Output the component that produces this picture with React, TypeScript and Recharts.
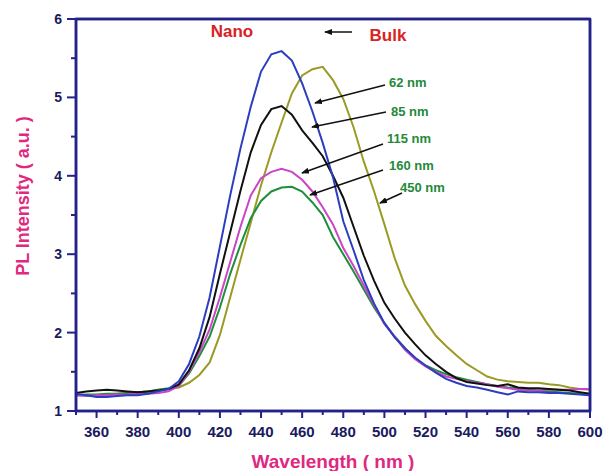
import { LineChart, Line, XAxis, YAxis, ReferenceLine } from 'recharts'

const wavelengths = [
  350, 355, 360, 365, 370, 375, 380, 385, 390, 395, 400, 405, 410, 415, 420, 425, 430, 435, 440, 445,
  450, 455, 460, 465, 470, 475, 480, 485, 490, 495, 500, 505, 510, 515, 520, 525, 530, 535, 540, 545,
  550, 555, 560, 565, 570, 575, 580, 585, 590, 595, 600,
]

// 62 nm
const blue = [
  1.22, 1.2, 1.18, 1.18, 1.19, 1.2, 1.2, 1.22, 1.25, 1.28, 1.38, 1.6, 1.95, 2.45, 3.1, 3.75, 4.35, 4.88, 5.33, 5.55,
  5.59, 5.47, 5.18, 4.82, 4.42, 3.98, 3.42, 3.05, 2.67, 2.37, 2.12, 1.94, 1.8, 1.68, 1.58, 1.49, 1.41, 1.36, 1.32, 1.3,
  1.27, 1.24, 1.21, 1.25, 1.24, 1.24, 1.23, 1.23, 1.22, 1.21, 1.2,
]

// 85 nm
const black = [
  1.23, 1.25, 1.26, 1.27, 1.26, 1.25, 1.24, 1.25, 1.26, 1.28, 1.34, 1.52, 1.8, 2.2, 2.75, 3.28, 3.81, 4.3, 4.65, 4.85,
  4.89, 4.78, 4.58, 4.42, 4.25, 4.0, 3.72, 3.35, 2.98, 2.66, 2.38, 2.18, 2.0, 1.85, 1.71, 1.6, 1.5, 1.42, 1.37, 1.35,
  1.33, 1.32, 1.34, 1.3, 1.29, 1.29, 1.28, 1.27, 1.26, 1.24, 1.22,
]

// 115 nm
const magenta = [
  1.2, 1.19, 1.2, 1.2, 1.21, 1.21, 1.22, 1.22, 1.23, 1.25, 1.32, 1.5, 1.75, 2.04, 2.45, 2.9, 3.35, 3.75, 3.97, 4.05,
  4.09, 4.05, 3.95, 3.8, 3.6, 3.38, 3.08, 2.85, 2.6, 2.35, 2.11, 1.95, 1.78, 1.66, 1.57, 1.5, 1.44, 1.41, 1.38, 1.36,
  1.34, 1.31, 1.29, 1.27, 1.26, 1.26, 1.27, 1.27, 1.27, 1.28, 1.28,
]

// 160 nm
const green = [
  1.2, 1.21, 1.21, 1.22, 1.22, 1.23, 1.24, 1.25, 1.27, 1.29, 1.32, 1.48, 1.7, 1.95, 2.32, 2.75, 3.12, 3.46, 3.68, 3.8,
  3.85, 3.86, 3.8, 3.66, 3.5, 3.22, 3.0, 2.78, 2.55, 2.32, 2.12, 1.95, 1.8, 1.67, 1.58, 1.52, 1.47, 1.43, 1.4, 1.37,
  1.34, 1.32, 1.3, 1.29, 1.27, 1.26, 1.25, 1.24, 1.23, 1.22, 1.2,
]

// 450 nm (bulk)
const olive = [
  1.2, 1.2, 1.2, 1.21, 1.22, 1.23, 1.24, 1.25, 1.27, 1.28, 1.3, 1.36, 1.46, 1.62, 1.97, 2.45, 2.93, 3.4, 3.88, 4.3,
  4.68, 5.05, 5.28, 5.36, 5.39, 5.22, 4.98, 4.62, 4.18, 3.8, 3.38, 2.95, 2.6, 2.36, 2.15, 1.96, 1.83, 1.71, 1.6, 1.52,
  1.44, 1.4, 1.38, 1.37, 1.36, 1.36, 1.34, 1.33, 1.3, 1.28, 1.27,
]

const xTicks = [350, 360, 370, 380, 390, 400, 410, 420, 430, 440, 450, 460, 470, 480, 490, 500, 510, 520, 530, 540, 550, 560, 570, 580, 590, 600]
const yTicks = [1, 1.5, 2, 2.5, 3, 3.5, 4, 4.5, 5, 5.5, 6]

const data = wavelengths.map((w, i) => ({
  w,
  blue: blue[i],
  black: black[i],
  magenta: magenta[i],
  green: green[i],
  olive: olive[i],
}))

const NAVY = '#22228a'
const TICK_TEXT = '#1a1a5e'
const PINK = '#e0287f'
const RED = '#d8231f'
const LABEL_GREEN = '#24893a'
const FONT = '"Liberation Sans", Arial, sans-serif'

// plot box: margin left 0 + y axis width 76, right margin 13, top 19, x axis height 60
const PLOT = { left: 76, top: 19, width: 603 - 76 - 13, height: 471 - 19 - 60 }

function XTick(props: any) {
  const { x, y, payload } = props
  const v = payload.value
  const major = (v - 360) % 20 === 0
  return (
    <g>
      <line x1={x} x2={x} y1={y} y2={y + (major ? 7 : 4)} stroke={NAVY} strokeWidth={2} />
      {major && (
        <text x={x} y={y + 26} textAnchor="middle" fill={TICK_TEXT} fontSize={15} fontWeight="bold" fontFamily={FONT}>
          {v}
        </text>
      )}
    </g>
  )
}

function YTick(props: any) {
  const { x, y, payload } = props
  const v = payload.value
  const major = Number.isInteger(v)
  return (
    <g>
      <line x1={x} x2={x - (major ? 9 : 5)} y1={y} y2={y} stroke={NAVY} strokeWidth={2} />
      {major && (
        <text x={x - 14} y={y + 5} textAnchor="end" fill={TICK_TEXT} fontSize={14} fontWeight="bold" fontFamily={FONT}>
          {v}
        </text>
      )}
    </g>
  )
}

const sizeLabels = [
  { text: '62 nm', tx: 389, ty: 87, x1: 385, y1: 85, x2: 315, y2: 103 },
  { text: '85 nm', tx: 391, ty: 116, x1: 386, y1: 112, x2: 312, y2: 127 },
  { text: '115 nm', tx: 387, ty: 143, x1: 383, y1: 144, x2: 302, y2: 173 },
  { text: '160 nm', tx: 389, ty: 170, x1: 383, y1: 170, x2: 310, y2: 195 },
  { text: '450 nm', tx: 400, ty: 192, x1: 402, y1: 193, x2: 380, y2: 203 },
]

export default function App() {
  return (
    <div style={{ position: 'absolute', left: 0, top: 0, width: 603, height: 471, background: '#fff' }}>
      <LineChart width={603} height={471} data={data} margin={{ top: 19, right: 13, left: 0, bottom: 0 }}>
        <XAxis
          dataKey="w"
          type="number"
          domain={[350, 600]}
          ticks={xTicks}
          interval={0}
          height={60}
          tickSize={0}
          tickMargin={0}
          tickLine={false}
          tick={<XTick />}
          axisLine={{ stroke: NAVY, strokeWidth: 2.5 }}
        />
        <YAxis
          type="number"
          domain={[1, 6]}
          ticks={yTicks}
          interval={0}
          width={76}
          tickSize={0}
          tickMargin={0}
          tickLine={false}
          tick={<YTick />}
          axisLine={{ stroke: NAVY, strokeWidth: 2.5 }}
        />
        <ReferenceLine y={6} stroke={NAVY} strokeWidth={2.5} />
        <ReferenceLine x={600} stroke={NAVY} strokeWidth={2.5} />
        <Line dataKey="olive" stroke="#9a9a25" strokeWidth={2} dot={false} type="linear" isAnimationActive={false} />
        <Line dataKey="green" stroke="#1f8f3c" strokeWidth={2} dot={false} type="linear" isAnimationActive={false} />
        <Line dataKey="magenta" stroke="#cc44c8" strokeWidth={2} dot={false} type="linear" isAnimationActive={false} />
        <Line dataKey="black" stroke="#111111" strokeWidth={2} dot={false} type="linear" isAnimationActive={false} />
        <Line dataKey="blue" stroke="#2b3ec0" strokeWidth={2} dot={false} type="linear" isAnimationActive={false} />
      </LineChart>
      <svg width={603} height={471} style={{ position: 'absolute', left: 0, top: 0, pointerEvents: 'none' }}>
        <defs>
          <marker id="ah" markerWidth="8" markerHeight="6" refX="7" refY="3" orient="auto" markerUnits="userSpaceOnUse">
            <path d="M0,0 L8,3 L0,6 Z" fill="#111" />
          </marker>
        </defs>
        <rect x={PLOT.left} y={PLOT.top} width={PLOT.width} height={PLOT.height} fill="none" stroke={NAVY} strokeWidth={2.5} />
        <text x={232} y={37} textAnchor="middle" fill={RED} fontSize={17} fontWeight="bold" fontFamily={FONT}>
          Nano
        </text>
        <line x1={352} y1={32} x2={325} y2={32} stroke="#111" strokeWidth={1.5} markerEnd="url(#ah)" />
        <text x={388} y={41} textAnchor="middle" fill={RED} fontSize={17} fontWeight="bold" fontFamily={FONT}>
          Bulk
        </text>
        {sizeLabels.map((l) => (
          <g key={l.text}>
            <line x1={l.x1} y1={l.y1} x2={l.x2} y2={l.y2} stroke="#111" strokeWidth={1.5} markerEnd="url(#ah)" />
            <text x={l.tx} y={l.ty} fill={LABEL_GREEN} fontSize={13} fontWeight="bold" fontFamily={FONT}>
              {l.text}
            </text>
          </g>
        ))}
        <text x={333} y={468} textAnchor="middle" fill={PINK} fontSize={19} fontWeight="bold" fontFamily={FONT}>
          Wavelength ( nm )
        </text>
        <text
          x={0}
          y={0}
          transform="translate(29 196) rotate(-90)"
          textAnchor="middle"
          fill={PINK}
          fontSize={18}
          fontWeight="bold"
          fontFamily={FONT}
        >
          PL Intensity ( a.u. )
        </text>
      </svg>
    </div>
  )
}
